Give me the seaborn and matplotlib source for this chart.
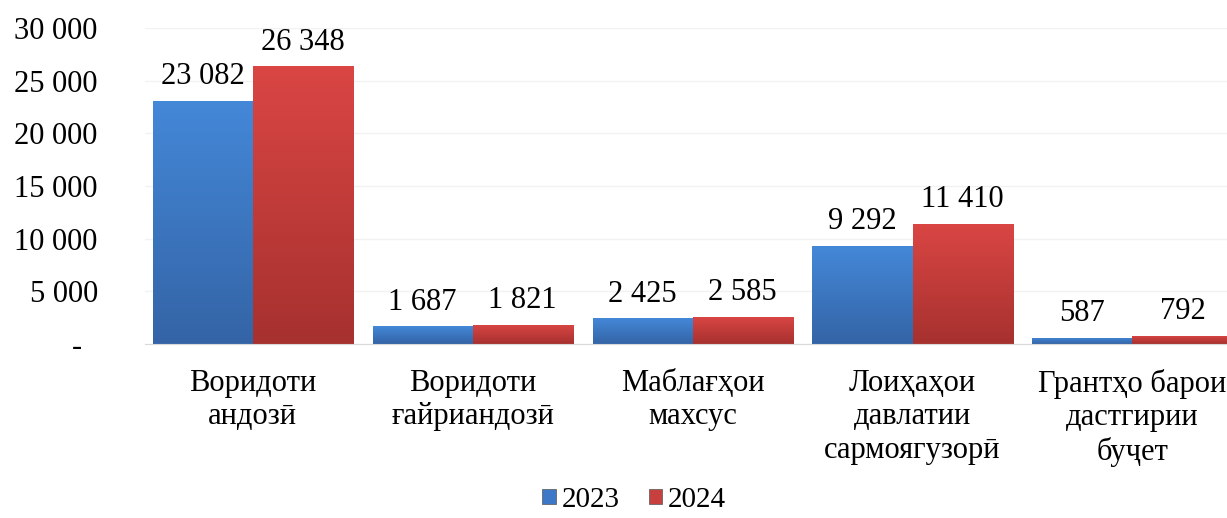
import matplotlib
matplotlib.use("Agg")
import matplotlib.pyplot as plt
from matplotlib.ticker import FuncFormatter
from matplotlib.patches import Patch
from matplotlib.colors import LinearSegmentedColormap
import seaborn as sns
import pandas as pd
import numpy as np

categories = ["Воридоти\nандозӣ", "Воридоти\nғайриандозӣ", "Маблағҳои\nмахсус",
              "Лоиҳаҳои\nдавлатии\nсармоягузорӣ", "Грантҳо барои\nдастгирии\nбуҷет"]
years = ["2023", "2024"]
values_2023 = [23082, 1687, 2425, 9292, 587]
values_2024 = [26348, 1821, 2585, 11410, 792]
colors = ["#3d77c8", "#c83f3f"]
# top / bottom shades for the glossy look
shades = [("#4488d8", "#3464a6"), ("#da4644", "#a6312f")]

df = pd.DataFrame({
    "category": categories * 2,
    "year": [years[0]] * len(categories) + [years[1]] * len(categories),
    "value": values_2023 + values_2024,
})

sns.set_style("white")
plt.rcParams["font.family"] = ["Liberation Serif", "DejaVu Serif"]
plt.rcParams["text.color"] = "black"
plt.rcParams["xtick.color"] = "black"
plt.rcParams["ytick.color"] = "black"

fig = plt.figure(figsize=(12.27, 5.18), dpi=100)
ax = fig.add_axes([145 / 1227, 174 / 518, 1 - 145 / 1227, 316 / 518])

sns.barplot(data=df, x="category", y="value", hue="year", palette=colors,
            width=0.91, saturation=1, ax=ax, legend=False,
            edgecolor="#555555", linewidth=0.5)

# vertical gradient inside every bar
grad = np.linspace(1, 0, 256).reshape(-1, 1)
for c, (top, bot) in zip(ax.containers, shades):
    cmap = LinearSegmentedColormap.from_list("g", [bot, top])
    for bar in c:
        x0, y0 = bar.get_x(), bar.get_y()
        w, h = bar.get_width(), bar.get_height()
        im = ax.imshow(grad, cmap=cmap, aspect="auto", extent=[x0, x0 + w, y0, y0 + h],
                       zorder=bar.get_zorder() + 0.1, origin="upper")
        im.set_clip_path(bar)
ax.set_xlim(-0.49, 4.43)
ax.set_ylim(0, 30000)

fmt = lambda v: f"{v:,.0f}".replace(",", " ")
for c in ax.containers:
    ax.bar_label(c, labels=[fmt(v) for v in c.datavalues], padding=7, fontsize=22)

ax.set_yticks(range(0, 30001, 5000))
ax.yaxis.set_major_formatter(FuncFormatter(lambda v, p: "-  " if v == 0 else fmt(v)))
ax.tick_params(axis="y", length=0, pad=34, labelsize=22)
ax.tick_params(axis="x", length=0, pad=18, labelsize=22)
for t in ax.get_xticklabels():
    t.set_linespacing(1.2)
ax.set_xlabel("")
ax.set_ylabel("")
ax.grid(axis="y", color="#f2f2f2", linewidth=1)
ax.set_axisbelow(True)
for s in ["top", "right", "left"]:
    ax.spines[s].set_visible(False)
ax.spines["bottom"].set_color("#d9d9d9")

handles = [Patch(facecolor=colors[i], edgecolor="#555555", linewidth=0.5, label=years[i]) for i in range(2)]
fig.legend(handles=handles, loc="center", bbox_to_anchor=(634 / 1227, 18 / 518), ncol=2,
           frameon=False, fontsize=21, handlelength=0.45, handleheight=0.45,
           handletextpad=0.2, columnspacing=1.0, borderpad=0.1)

fig.savefig("out.png", dpi=100)
